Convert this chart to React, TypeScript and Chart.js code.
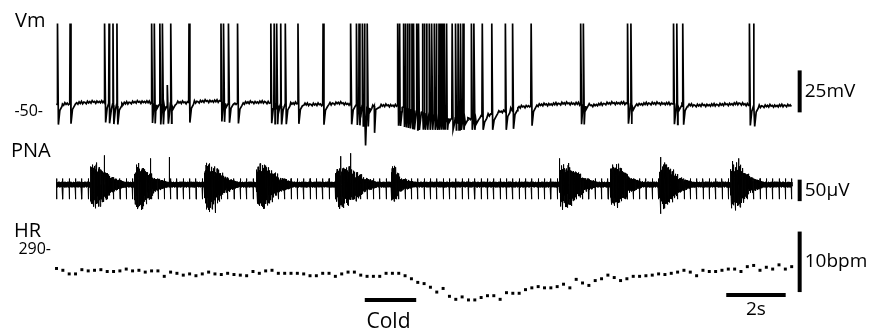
import React, { useEffect, useRef } from "react";
import { Chart, registerables } from "chart.js";

Chart.register(...registerables);

const W = 876;
const H = 333;

// ---------------- data (time in s) ----------------
const traceEnd = 24.75;

// Vm baseline read every 0.5 s (mV)
const vmBaseStep = 0.5;
const vmBaseline = [
  -45.9, -45.3, -44.7, -44.2, -45.9, -44.7, -44.2, -45.9, -44.7, -44.7,
  -43.9, -43.9, -45.3, -44.7, -44.4, -45.9, -45.3, -45.9, -45.9, -45.0,
  -45.9, -47.1, -46.5, -46.5, -48.8, -51.2, -52.9, -54.1, -54.1, -52.3,
  -50.0, -47.7, -46.5, -45.9, -45.3, -45.3, -46.5, -45.3, -45.0, -45.9,
  -45.3, -45.3, -45.9, -46.5, -46.2, -45.9, -45.3, -47.1, -46.8, -46.5, -46.5,
];
// small recording noise on the Vm baseline (mV)
const vmNoise = [0.6, -0.4, 0.8, -0.7, 0.3, 0.0, -0.8, 0.7, -0.3, 0.4, -0.6, 0.9, -0.1, 0.3, -0.8, 0.5, -0.4, 0.2, -0.7];
// action potential times (s)
const vmSpikeTimes = [
  0.033, 0.457, 1.623, 1.767, 1.9, 2.033, 3.2, 3.29, 3.477, 3.567, 3.843, 4.457,
  5.533, 5.623, 5.79, 6.09, 7.21, 7.323, 7.41, 7.543, 7.7, 8.123, 8.967, 9.9,
  10.09, 10.177, 10.29, 10.367, 10.457, 11.477, 11.543, 11.677, 11.743, 11.81,
  11.877, 11.957, 12.01, 12.123, 12.177, 12.31, 12.377, 12.457, 12.543, 12.623,
  12.71, 12.79, 12.867, 12.933, 12.99, 13.043, 13.123, 13.31, 13.423, 13.51,
  13.59, 13.677, 13.957, 14.043, 14.323, 14.643, 15.1, 15.343, 15.967, 17.633,
  17.723, 19.21, 19.323, 20.757, 20.867, 21.067, 23.31, 23.457,
];
const vmSpikePeak = 2.3;
const vmPartialTimes = [3.733];
const vmPartialPeaks = [-34.3];
const vmDeepTroughTimes = [10.367];
const vmDeepTroughValues = [-70.3];
const vmDownTimes = [10.7];
const vmDownValues = [-62.8];

// PNA bursts
const pnaBurstStart = [1.133, 2.623, 4.99, 6.733, 9.4, 11.267, 16.923, 18.623, 20.29, 22.677];
const pnaBurstEnd = [1.8, 3.233, 5.623, 7.457, 10.29, 11.51, 17.667, 19.233, 20.9, 23.29];
const pnaBurstUp = [40, 38, 40, 38, 36, 40, 38, 40, 40, 42];
const pnaBurstDown = [45, 47, 50, 45, 45, 38, 45, 45, 45, 48];
const pnaSpikeTimes = [1.6, 2.9, 3.167, 3.79, 5.343, 9.567, 9.9, 16.923, 20.323, 20.33, 22.957];
const pnaSpikeValues = [68, -57, 61, 64, -66, 66, 73, 61, 64, -68, 61];
const pnaNoiseAmp = 6.5;
const pnaTexture = [0.95, 0.7, 0.85, 1.0, 0.6, 0.9, 0.75, 1.0, 0.65, 0.8, 0.92, 0.55, 0.88, 0.72, 1.0, 0.8, 0.62, 0.96, 0.84, 0.58, 0.9, 0.74, 1.0, 0.68, 0.86, 0.98, 0.7, 0.9, 0.78];
const pnaBurstRagged = [1.0, 0.72, 1.12, 0.85, 0.62, 1.05, 0.9, 0.68, 1.15, 0.8, 0.95, 0.58, 1.02, 0.84, 1.1, 0.7, 0.92];
const pnaArtifactUp = 14;
const pnaArtifactDown = -34;

// heart rate, one value per beat (bpm)
const hrFirstBeat = 0;
const hrInterval = 0.2132;
const hrValues = [
  287.1, 286.8, 286.2, 286.2, 286.9, 286.7, 286.8, 286.9, 286.6, 286.6,
  286.7, 287.0, 286.7, 286.8, 286.5, 286.7, 286.7, 285.8, 286.5, 286.3,
  286.0, 286.2, 285.9, 286.2, 286.5, 286.2, 286.1, 286.3, 286.1, 286.0,
  285.9, 286.6, 286.3, 286.7, 286.8, 286.3, 286.3, 286.3,
  286.3, 286.2, 285.9, 285.9, 286.3, 286.3, 285.8, 286.2, 286.5, 286.5,
  286.0, 285.8, 285.8, 285.8, 286.3, 286.3, 286.3, 285.9, 285.4, 284.8,
  284.6, 284.0, 283.2, 283.8, 282.5, 282.0, 282.4, 281.9, 281.9, 282.3,
  282.6, 282.6, 282.0, 283.1, 283.0, 283.0, 283.6, 283.9, 284.1, 283.9,
  283.9, 284.1, 284.5, 283.9, 285.3, 284.7,
  284.3, 285.1, 285.4, 286.0, 285.6, 285.1, 285.4, 285.8, 285.8, 285.9,
  286.0, 286.2, 286.1, 286.3, 286.5, 286.8, 286.5, 285.9, 286.8, 286.6,
  286.6, 286.8, 287.0, 287.0, 286.6, 287.4, 287.6, 286.8, 287.3, 287.0,
  287.7, 287.0, 287.4,
];

// scale bars and stimulus
const barTime = 25.0;
const vmBar = [-50.6, -25.6]; // 25 mV
const pnaBar = [-38.6, 11.4]; // 50 µV
const hrBar = [283.2, 293.2]; // 10 bpm
const timeBar = [22.53, 24.53]; // 2 s
const timeBarLevel = 282.7;
const coldBar = [10.37, 12.1];
const coldBarLevel = 281.9;
const vmTickValue = -50;
const hrTickValue = 290;

// ---------------- layout (pixels) ----------------
const X0_PX = 53;
const X_PX_PER_S = 30;
const VM_ANCHOR_PX = 110; // -50 mV
const VM_PX_PER_UNIT = 1.72;
const PNA_ANCHOR_PX = 185; // 0 µV
const PNA_PX_PER_UNIT = 0.44;
const HR_ANCHOR_PX = 253; // 290 bpm
const HR_PX_PER_UNIT = 6.2;

type P = { x: number; y: number };

function vmBaseAt(t: number) {
  const f = t / vmBaseStep;
  const i = Math.max(0, Math.min(Math.floor(f), vmBaseline.length - 2));
  const r = f - i;
  return vmBaseline[i] * (1 - r) + vmBaseline[i + 1] * r;
}

function buildVm(): P[] {
  const pts: P[] = [];
  const spikes = vmSpikeTimes.concat(vmPartialTimes);
  const events = spikes.concat(vmDownTimes);
  const step = 0.04;
  for (let i = 0; i * step <= traceEnd; i++) {
    const t = i * step;
    if (events.some((s) => t > s - 0.02 && t < s + 0.16)) continue;
    pts.push({ x: t, y: vmBaseAt(t) + vmNoise[i % vmNoise.length] });
  }
  spikes.forEach((s) => {
    const b = vmBaseAt(s);
    const pi = vmPartialTimes.indexOf(s);
    const peak = pi >= 0 ? vmPartialPeaks[pi] : vmSpikePeak;
    const di = vmDeepTroughTimes.indexOf(s);
    const trough = di >= 0 ? vmDeepTroughValues[di] : Math.max(b - 12, -61);
    pts.push(
      { x: s - 0.012, y: b },
      { x: s, y: peak },
      { x: s + 0.03, y: trough },
      { x: s + 0.08, y: b - 3.5 },
      { x: s + 0.15, y: b - 1.2 }
    );
  });
  vmDownTimes.forEach((s, k) => {
    const b = vmBaseAt(s);
    pts.push({ x: s - 0.01, y: b }, { x: s, y: vmDownValues[k] }, { x: s + 0.04, y: b - 2 }, { x: s + 0.15, y: b - 0.8 });
  });
  pts.sort((a, b) => a.x - b.x);
  return pts;
}

function burstEnv(t: number, amps: number[], shift: number) {
  let e = 0;
  const rag = pnaBurstRagged[(Math.floor(t / 0.025) + shift) % pnaBurstRagged.length];
  for (let k = 0; k < pnaBurstStart.length; k++) {
    const s = pnaBurstStart[k];
    const en = pnaBurstEnd[k];
    if (t >= s && t <= en) {
      const f = (t - s) / (en - s);
      const g = f < 0.05 ? 0.6 + (0.4 * f) / 0.05 : f < 0.4 ? 1 : 1 - (0.6 * (f - 0.4)) / 0.6;
      e = Math.max(e, amps[k] * g * rag);
    } else if (t > en && t < en + 0.5) {
      e = Math.max(e, amps[k] * 0.3 * (1 - (t - en) / 0.5) * rag);
    }
  }
  return e;
}

function beatTimes(): number[] {
  return hrValues.map((_, i) => hrFirstBeat + i * hrInterval);
}

function buildPna(): P[] {
  const pts: P[] = [];
  const step = 0.005;
  for (let i = 0; i * step <= traceEnd; i++) {
    const t = i * step;
    const tex = pnaTexture[i % pnaTexture.length];
    const y =
      i % 2 === 0
        ? (pnaNoiseAmp + burstEnv(t, pnaBurstUp, 0)) * tex
        : -(pnaNoiseAmp + burstEnv(t, pnaBurstDown, 7)) * tex;
    pts.push({ x: t, y });
  }
  beatTimes().forEach((tb) => {
    if (tb > traceEnd) return;
    pts.push({ x: tb + 0.001, y: pnaArtifactUp }, { x: tb + 0.004, y: pnaArtifactDown }, { x: tb + 0.007, y: 0 });
  });
  pnaSpikeTimes.forEach((ts, k) => {
    pts.push({ x: ts - 0.002, y: 0 }, { x: ts, y: pnaSpikeValues[k] }, { x: ts + 0.002, y: 0 });
  });
  pts.sort((a, b) => a.x - b.x);
  return pts;
}

function buildHr(): P[] {
  const bt = beatTimes();
  return hrValues.map((v, i) => ({ x: bt[i], y: v }));
}

function axisRange(anchorValue: number, anchorPx: number, pxPerUnit: number) {
  return { min: anchorValue - (H - anchorPx) / pxPerUnit, max: anchorValue + anchorPx / pxPerUnit };
}

const FONT = '"Open Sans", "DejaVu Sans", sans-serif';

const labelPlugin = {
  id: "traceLabels",
  afterDatasetsDraw(chart: any) {
    const ctx: CanvasRenderingContext2D = chart.ctx;
    const sx = chart.scales.x;
    const sVm = chart.scales.yVm;
    const sPna = chart.scales.yPna;
    const sHr = chart.scales.yHr;
    ctx.save();
    ctx.fillStyle = "#000";
    ctx.textBaseline = "alphabetic";
    ctx.textAlign = "left";
    ctx.font = `20px ${FONT}`;
    ctx.fillText("Vm", 15, 27);
    ctx.fillText("PNA", 11, 157);
    ctx.fillText("HR", 14, 237);

    ctx.font = `16px ${FONT}`;
    ctx.textAlign = "right";
    ctx.textBaseline = "middle";
    ctx.fillText("-50-", 43, sVm.getPixelForValue(vmTickValue));
    ctx.fillText("290-", 51, sHr.getPixelForValue(hrTickValue) - 1);

    const bx = sx.getPixelForValue(barTime) + 5;
    ctx.textAlign = "left";
    ctx.font = `19px ${FONT}`;
    ctx.fillText("25mV", bx, sVm.getPixelForValue((vmBar[0] + vmBar[1]) / 2));
    ctx.fillText("50µV", bx, sPna.getPixelForValue((pnaBar[0] + pnaBar[1]) / 2));
    ctx.fillText("10bpm", bx, sHr.getPixelForValue((hrBar[0] + hrBar[1]) / 2));

    ctx.textAlign = "center";
    ctx.textBaseline = "alphabetic";
    ctx.fillText("2s", sx.getPixelForValue((timeBar[0] + timeBar[1]) / 2), sHr.getPixelForValue(timeBarLevel) + 20);
    ctx.font = `21px ${FONT}`;
    ctx.fillText("Cold", sx.getPixelForValue((coldBar[0] + coldBar[1]) / 2) - 2, sHr.getPixelForValue(coldBarLevel) + 28);
    ctx.restore();
  },
};

function bar(data: P[], axis: string) {
  return {
    data,
    yAxisID: axis,
    borderColor: "#000",
    borderWidth: 4,
    pointRadius: 0,
    borderCapStyle: "butt",
    tension: 0,
    fill: false,
  };
}

export default function App() {
  const ref = useRef<HTMLCanvasElement | null>(null);
  useEffect(() => {
    if (!ref.current) return;
    const xr = { min: -X0_PX / X_PX_PER_S, max: (W - X0_PX) / X_PX_PER_S };
    const vmR = axisRange(vmTickValue, VM_ANCHOR_PX, VM_PX_PER_UNIT);
    const pnaR = axisRange(0, PNA_ANCHOR_PX, PNA_PX_PER_UNIT);
    const hrR = axisRange(hrTickValue, HR_ANCHOR_PX, HR_PX_PER_UNIT);
    const chart = new Chart(ref.current, {
      type: "line",
      data: {
        datasets: [
          { data: buildVm(), yAxisID: "yVm", borderColor: "#000", borderWidth: 1.7, pointRadius: 0, tension: 0, fill: false },
          { data: buildPna(), yAxisID: "yPna", borderColor: "#000", borderWidth: 1, pointRadius: 0, tension: 0, fill: false },
          {
            data: buildHr(),
            yAxisID: "yHr",
            showLine: false,
            pointStyle: "rect",
            pointRadius: 2.1,
            pointBorderWidth: 0,
            pointBackgroundColor: "#000",
            borderColor: "#000",
            backgroundColor: "#000",
          },
          bar([{ x: barTime, y: vmBar[0] }, { x: barTime, y: vmBar[1] }], "yVm"),
          bar([{ x: barTime, y: pnaBar[0] }, { x: barTime, y: pnaBar[1] }], "yPna"),
          bar([{ x: barTime, y: hrBar[0] }, { x: barTime, y: hrBar[1] }], "yHr"),
          bar([{ x: timeBar[0], y: timeBarLevel }, { x: timeBar[1], y: timeBarLevel }], "yHr"),
          bar([{ x: coldBar[0], y: coldBarLevel }, { x: coldBar[1], y: coldBarLevel }], "yHr"),
        ] as any,
      },
      options: {
        animation: false,
        responsive: false,
        maintainAspectRatio: false,
        devicePixelRatio: 1,
        events: [],
        layout: { padding: 0 },
        plugins: { legend: { display: false }, tooltip: { enabled: false }, title: { display: false } },
        scales: {
          x: { type: "linear", display: false, min: xr.min, max: xr.max },
          yVm: { type: "linear", display: false, min: vmR.min, max: vmR.max },
          yPna: { type: "linear", display: false, min: pnaR.min, max: pnaR.max },
          yHr: { type: "linear", display: false, min: hrR.min, max: hrR.max },
        },
      } as any,
      plugins: [labelPlugin],
    });
    return () => chart.destroy();
  }, []);
  return (
    <div style={{ position: "fixed", left: 0, top: 0, width: W, height: H, background: "#fff" }}>
      <canvas ref={ref} width={W} height={H} style={{ display: "block", width: W, height: H }} />
    </div>
  );
}
